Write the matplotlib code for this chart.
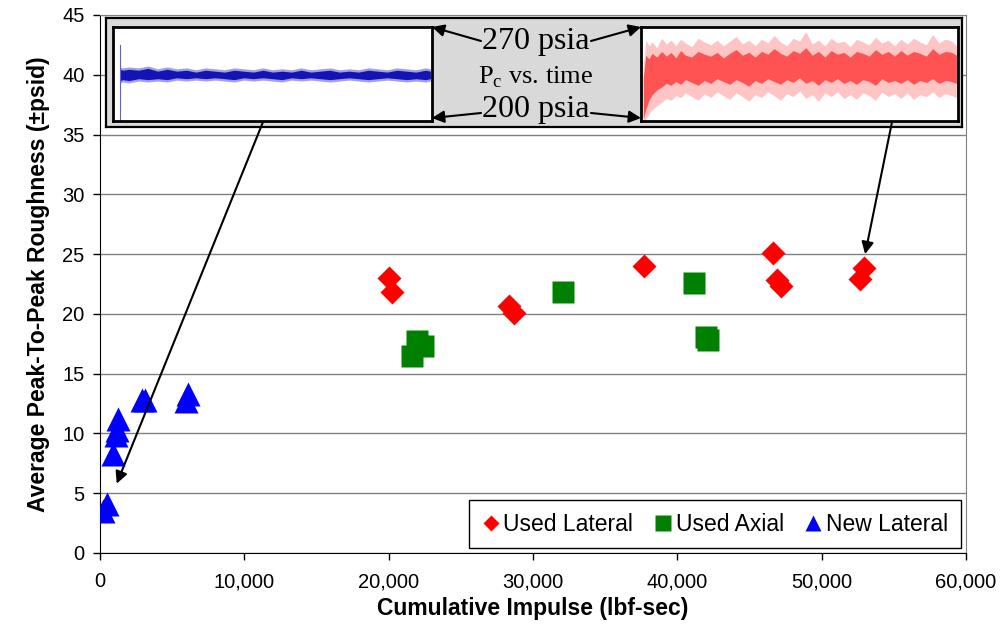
import matplotlib
matplotlib.use('Agg')

import matplotlib.pyplot as plt
from matplotlib.lines import Line2D
from matplotlib.ticker import FuncFormatter

plt.rcParams['font.family'] = ['Liberation Sans', 'DejaVu Sans']

# Daten
used_lat_x = [20000, 20250, 28370, 28650, 37660, 46640, 46930, 47170, 52900, 52660]
used_lat_y = [23.0, 21.8, 20.7, 20.1, 24.0, 25.1, 22.8, 22.3, 23.8, 22.9]

used_ax_x = [21640, 21960, 22400, 32060, 41150, 41960, 42140]
used_ax_y = [16.5, 17.7, 17.3, 21.85, 22.6, 18.1, 17.8]

new_lat_x = [230, 510, 920, 1100, 1180, 1270, 2890, 3120, 5970, 6100]
new_lat_y = [3.5, 4.1, 8.3, 9.9, 10.3, 11.2, 12.8, 12.8, 12.7, 13.3]

x_ticks = [0, 10000, 20000, 30000, 40000, 50000, 60000]
y_ticks = [0, 5, 10, 15, 20, 25, 30, 35, 40, 45]

# Pc-Verlaeufe im Einschub (Huellkurven, Anteil der Feldhoehe)
blue_x = [0.023, 0.03, 0.05, 0.08, 0.11, 0.14, 0.17, 0.20, 0.23, 0.26, 0.29, 0.32,
          0.35, 0.38, 0.41, 0.44, 0.47, 0.50, 0.53, 0.56, 0.59, 0.62, 0.65, 0.68,
          0.71, 0.74, 0.77, 0.80, 0.83, 0.86, 0.89, 0.92, 0.95, 0.98, 0.995]
blue_up = [0.55, 0.54, 0.55, 0.54, 0.56, 0.53, 0.55, 0.53, 0.54, 0.52, 0.54, 0.53,
           0.52, 0.54, 0.53, 0.52, 0.54, 0.52, 0.53, 0.52, 0.54, 0.52, 0.53, 0.54,
           0.52, 0.53, 0.52, 0.54, 0.53, 0.52, 0.54, 0.53, 0.52, 0.54, 0.53]
blue_lo = [0.43, 0.44, 0.43, 0.45, 0.44, 0.45, 0.44, 0.46, 0.45, 0.46, 0.45, 0.46,
           0.45, 0.44, 0.46, 0.45, 0.46, 0.45, 0.44, 0.46, 0.45, 0.46, 0.45, 0.44,
           0.45, 0.46, 0.45, 0.44, 0.45, 0.46, 0.45, 0.44, 0.45, 0.44, 0.45]

red_x = [0.007, 0.015, 0.025, 0.035, 0.05, 0.065, 0.08, 0.095, 0.11, 0.125, 0.14,
         0.16, 0.18, 0.20, 0.22, 0.24, 0.26, 0.28, 0.30, 0.32, 0.34, 0.36, 0.38,
         0.40, 0.42, 0.44, 0.46, 0.48, 0.50, 0.52, 0.54, 0.56, 0.58, 0.60, 0.62,
         0.64, 0.66, 0.68, 0.70, 0.72, 0.74, 0.76, 0.78, 0.80, 0.82, 0.84, 0.86,
         0.88, 0.90, 0.92, 0.94, 0.96, 0.98, 0.995]
red_outer_up = [0.55, 0.86, 0.80, 0.84, 0.78, 0.88, 0.82, 0.86, 0.80, 0.87, 0.83,
                0.79, 0.88, 0.84, 0.81, 0.86, 0.80, 0.85, 0.90, 0.82, 0.86, 0.80,
                0.87, 0.83, 0.91, 0.84, 0.80, 0.88, 0.85, 0.95, 0.82, 0.86, 0.80,
                0.88, 0.83, 0.85, 0.79, 0.87, 0.84, 0.81, 0.89, 0.83, 0.86, 0.80,
                0.87, 0.82, 0.88, 0.84, 0.81, 0.92, 0.83, 0.87, 0.85, 0.80]
red_core_up = [0.45, 0.70, 0.66, 0.72, 0.68, 0.74, 0.69, 0.73, 0.67, 0.75, 0.70,
               0.68, 0.74, 0.71, 0.69, 0.73, 0.67, 0.72, 0.76, 0.70, 0.73, 0.68,
               0.74, 0.71, 0.77, 0.72, 0.69, 0.75, 0.72, 0.78, 0.70, 0.74, 0.68,
               0.75, 0.71, 0.73, 0.68, 0.74, 0.72, 0.69, 0.76, 0.71, 0.74, 0.69,
               0.75, 0.70, 0.74, 0.72, 0.69, 0.77, 0.71, 0.74, 0.73, 0.70]
red_core_lo = [0.02, 0.12, 0.22, 0.28, 0.33, 0.36, 0.40, 0.38, 0.42, 0.39, 0.44,
               0.41, 0.38, 0.43, 0.40, 0.45, 0.42, 0.39, 0.44, 0.41, 0.37, 0.43,
               0.40, 0.45, 0.42, 0.39, 0.44, 0.41, 0.46, 0.40, 0.43, 0.38, 0.44,
               0.41, 0.45, 0.40, 0.43, 0.39, 0.44, 0.42, 0.38, 0.45, 0.41, 0.43,
               0.40, 0.44, 0.39, 0.43, 0.41, 0.45, 0.40, 0.43, 0.42, 0.40]
red_outer_lo = [0.0, 0.02, 0.08, 0.12, 0.16, 0.20, 0.24, 0.22, 0.27, 0.25, 0.30,
                0.26, 0.22, 0.29, 0.25, 0.31, 0.27, 0.23, 0.30, 0.26, 0.21, 0.28,
                0.25, 0.31, 0.27, 0.22, 0.29, 0.26, 0.32, 0.24, 0.28, 0.21, 0.30,
                0.26, 0.31, 0.24, 0.28, 0.23, 0.30, 0.27, 0.22, 0.31, 0.26, 0.29,
                0.24, 0.30, 0.23, 0.28, 0.26, 0.31, 0.25, 0.29, 0.27, 0.25]


def main():
    W, H = 1003, 630
    fig = plt.figure(figsize=(W / 100, H / 100), dpi=100)

    # Hauptdiagramm
    ax = fig.add_axes([100 / W, 77 / H, 866 / W, 538 / H])
    ax.set_zorder(1)
    ax.plot(used_lat_x, used_lat_y, 'D', color='#ff0000', ms=12, mec='none', zorder=3)
    ax.plot(used_ax_x, used_ax_y, 's', color='#008000', ms=16.5, mec='none', zorder=3)
    ax.plot(new_lat_x, new_lat_y, '^', color='#0000ff', ms=17, mec='none', zorder=3)

    ax.set_xlim(0, 60000)
    ax.set_ylim(0, 45)
    ax.set_xticks(x_ticks)
    ax.set_yticks(y_ticks)
    ax.xaxis.set_major_formatter(FuncFormatter(lambda v, p: '{:,.0f}'.format(v)))
    ax.yaxis.grid(True, color='#808080', lw=1)
    ax.set_axisbelow(True)
    ax.tick_params(direction='out', length=5, width=1, labelsize=14.5, pad=6)
    ax.tick_params(axis='x', pad=9)
    for s in ['top', 'right']:
        ax.spines[s].set_color('#808080')
    for s in ['left', 'bottom']:
        ax.spines[s].set_color('black')
    ax.set_xlabel('Cumulative Impulse (lbf-sec)', fontsize=16.5, fontweight='bold', labelpad=4)
    ax.set_ylabel('Average Peak-To-Peak Roughness (\u00b1psid)', fontsize=16.5,
                  fontweight='bold', labelpad=9)

    handles = [
        Line2D([], [], ls='none', marker='D', color='#ff0000', ms=8, mec='none'),
        Line2D([], [], ls='none', marker='s', color='#008000', ms=11, mec='none'),
        Line2D([], [], ls='none', marker='^', color='#0000ff', ms=12, mec='none'),
    ]
    leg = ax.legend(handles, ['Used Lateral', 'Used Axial', 'New Lateral'],
                    loc='lower right', bbox_to_anchor=(0.994, 0.009), ncol=3,
                    fontsize=16.5, handlelength=0.8, handletextpad=0.15,
                    columnspacing=0.9, fancybox=False, framealpha=1,
                    borderpad=0.55, borderaxespad=0)
    leg.get_frame().set_edgecolor('black')
    leg.get_frame().set_linewidth(1)

    # Einschub: grauer Kasten
    box = fig.add_axes([106 / W, (H - 127) / H, 856 / W, 109 / H])
    box.set_zorder(2)
    box.set_facecolor('#d9d9d9')
    box.set_xticks([])
    box.set_yticks([])
    for s in box.spines.values():
        s.set_linewidth(1.6)
        s.set_color('black')

    # linkes Feld (blau)
    pl = fig.add_axes([113 / W, (H - 121) / H, 319 / W, 94 / H])
    pl.set_zorder(3)
    pl.set_xlim(0, 1)
    pl.set_ylim(0, 1)
    pl.fill_between(blue_x, [v + 0.025 for v in blue_up], [v - 0.025 for v in blue_lo],
                    color='#a0a0e8', lw=0)
    pl.fill_between(blue_x, blue_up, blue_lo, color='#1414b4', lw=0)
    pl.plot([0.023, 0.023], [0.0, 0.81], color='#6060d0', lw=0.8)

    # rechtes Feld (rot)
    pr = fig.add_axes([641 / W, (H - 121) / H, 317 / W, 94 / H])
    pr.set_zorder(3)
    pr.set_xlim(0, 1)
    pr.set_ylim(0, 1)
    pr.fill_between(red_x, red_outer_up, red_outer_lo, color='#ffc4c4', lw=0)
    pr.fill_between(red_x, red_core_up, red_core_lo, color='#ff5252', lw=0)

    for p in (pl, pr):
        p.set_xticks([])
        p.set_yticks([])
        for s in p.spines.values():
            s.set_linewidth(2)
            s.set_color('black')

    # Texte und Pfeile (Pixelkoordinaten)
    ov = fig.add_axes([0, 0, 1, 1])
    ov.set_zorder(4)
    ov.set_xlim(0, W)
    ov.set_ylim(H, 0)
    ov.axis('off')
    serif = ['Liberation Serif', 'DejaVu Serif']
    ov.text(536, 42, '270 psia', fontsize=23, family=serif, ha='center', va='center')
    ov.text(536, 77, r'P$_\mathregular{c}$ vs. time', fontsize=19, family=serif,
            ha='center', va='center')
    ov.text(536, 110, '200 psia', fontsize=23, family=serif, ha='center', va='center')

    arr = dict(arrowstyle='-|>', color='black', lw=1.5, mutation_scale=18,
               shrinkA=0, shrinkB=0)
    ov.annotate('', xy=(432, 27), xytext=(481, 41), arrowprops=arr)
    ov.annotate('', xy=(641, 27), xytext=(591, 41), arrowprops=arr)
    ov.annotate('', xy=(432, 118), xytext=(481, 113), arrowprops=arr)
    ov.annotate('', xy=(641, 118), xytext=(591, 113), arrowprops=arr)

    ov.annotate('', xy=(1157, 5.8), xycoords=ax.transData, xytext=(263, 122),
                textcoords='data', arrowprops=arr)
    ov.annotate('', xy=(53010, 25.0), xycoords=ax.transData, xytext=(892, 122),
                textcoords='data', arrowprops=arr)

    fig.savefig('out.png', dpi=100)
    plt.close(fig)


if __name__ == "__main__":
    main()
